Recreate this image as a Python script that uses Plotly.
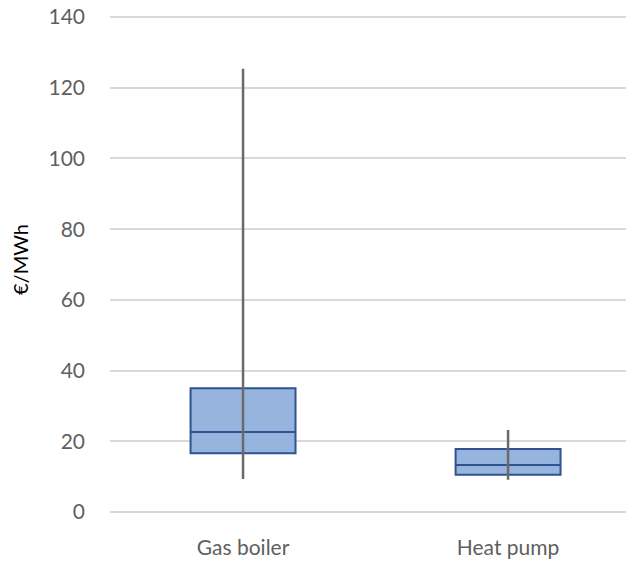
import plotly.graph_objects as go

categories = ["Gas boiler", "Heat pump"]
minimum = [9.3, 9.1]
q1 = [16.6, 10.5]
median = [22.6, 13.3]
q3 = [35.0, 17.8]
maximum = [125.4, 23.2]

y_ticks = [0, 20, 40, 60, 80, 100, 120, 140]

fig = go.Figure()

for i, cat in enumerate(categories):
    fig.add_trace(go.Box(
        x=[cat], q1=[q1[i]], median=[median[i]], q3=[q3[i]],
        lowerfence=[q1[i]], upperfence=[q3[i]],
        fillcolor="#97B4DF", line=dict(color="#2F5290", width=2),
        width=0.396, whiskerwidth=0, showlegend=False, hoverinfo="skip",
    ))
    fig.add_trace(go.Scatter(
        x=[cat, cat], y=[minimum[i], maximum[i]], mode="lines",
        line=dict(color="#6A6A6A", width=2.5), showlegend=False, hoverinfo="skip",
    ))

font_family = "Lato, Open Sans, sans-serif"
fig.update_layout(
    width=626, height=561,
    margin=dict(l=110, r=0, t=16, b=48),
    paper_bgcolor="white", plot_bgcolor="white",
    font=dict(family=font_family, color="#5F5F5F", size=21),
    xaxis=dict(
        type="category", categoryorder="array", categoryarray=categories,
        range=[-0.502, 1.445], showgrid=False, zeroline=False, showline=False,
        ticks="", ticklabelstandoff=20, tickfont=dict(size=21, color="#5F5F5F"),
    ),
    yaxis=dict(
        range=[-0.3, 140.3], tickvals=y_ticks, ticktext=[str(v) for v in y_ticks],
        showgrid=True, gridcolor="#D9D9D9", gridwidth=1.5, zeroline=False,
        showline=False, ticks="", ticklabelstandoff=24,
        tickfont=dict(size=21, color="#5F5F5F"),
    ),
    annotations=[dict(
        text="€/MWh", xref="paper", yref="paper", x=-90 / 516, y=(512 - 260) / 495,
        xanchor="center", yanchor="middle", textangle=-90, showarrow=False,
        font=dict(size=20, color="#000000", family=font_family),
    )],
)

fig.write_html("out.html", post_script="document.body.style.margin='0';",
               config={"displayModeBar": False})
